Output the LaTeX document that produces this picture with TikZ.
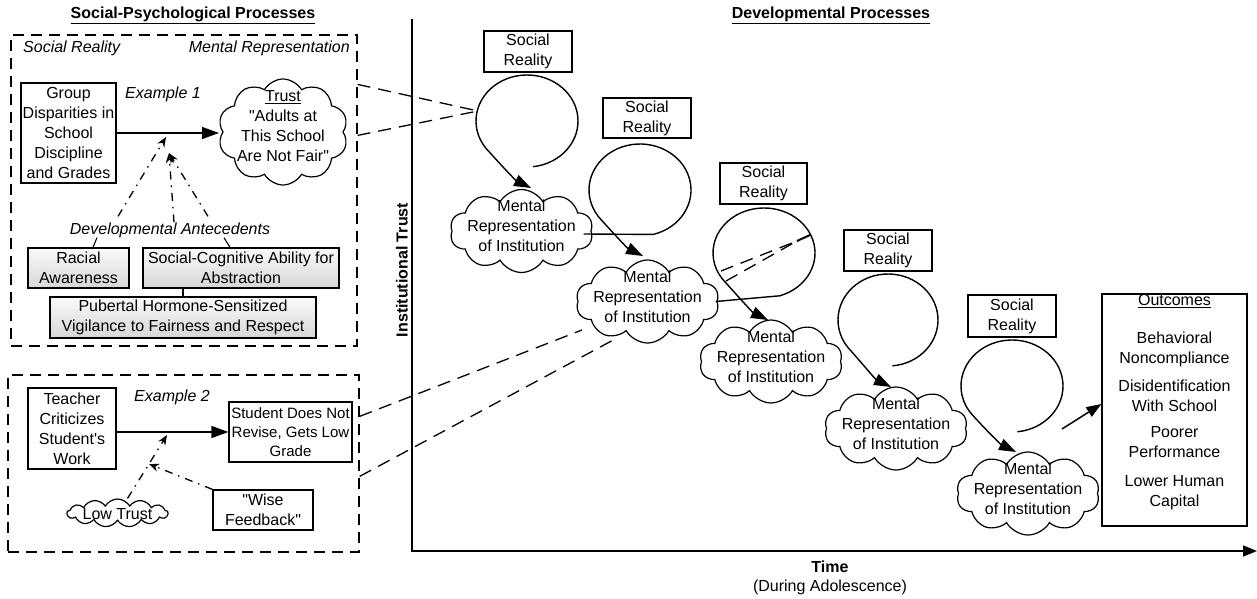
\documentclass[tikz,border=0pt]{standalone}
\usepackage{fontspec}
\newfontfamily\arial{Liberation Sans}
\usetikzlibrary{arrows.meta,shapes.symbols,calc}
\begin{document}
\begin{tikzpicture}[x=1pt,y=-1pt,
 every node/.style={font=\arial\fontsize{16}{20}\selectfont, align=center, inner sep=0pt},
 ital/.style={font=\arial\fontsize{16}{20}\selectfont\itshape},
 bold/.style={font=\arial\fontsize{16}{20}\selectfont\bfseries},
 box/.style={draw, line width=1.2pt},
 gbox/.style={box, top color=gray!4, bottom color=gray!32},
 dbox/.style={draw, line width=1.2pt, dash pattern=on 11pt off 7pt},
 cl/.style={cloud, draw, line width=1.2pt, cloud puffs=10, cloud puff arc=120, aspect=1.7},
 arr/.style={line width=1.4pt, -{Triangle[length=17pt,width=12pt]}},
 sp/.style={line width=1.4pt, -{Triangle[length=17pt,width=12pt]}},
 ddash/.style={line width=1.3pt, dash pattern=on 13pt off 8pt},
 ddot/.style={line width=1.3pt, dash pattern=on 8pt off 6pt on 1.5pt off 6pt, -{Stealth[length=10pt,width=8pt]}},
 tick/.style={line width=1.1pt}
]
\useasboundingbox (0,0) rectangle (1257,599);

% titles
\node[bold] (title1) at (193,15) {\underline{Social-Psychological Processes}};
\node[bold] (title2) at (831,15) {\underline{Developmental Processes}};

% ---------- Example 1 panel ----------
\node[dbox, minimum width=346pt, minimum height=311pt] (ex1box) at (184,190.5) {};
\node[ital, anchor=west] (srl) at (23,48) {Social Reality};
\node[ital, anchor=east] (mrl) at (350,48) {Mental Representation};
\node[box, minimum width=95pt, minimum height=100pt] (gd) at (68.5,133) {Group\\Disparities in\\School\\Discipline\\and Grades};
\node[ital] (ex1) at (163,94) {Example 1};
\node[cl, minimum width=130pt, minimum height=106pt] (trust) at (283,132) {};
\node (trustt) at (283,126) {\underline{Trust}\\"Adults at\\This School\\Are Not Fair"};
\draw[arr] (gd.east) -- (219,133);

\node[ital] (da) at (170,230) {Developmental Antecedents};
\node[gbox, minimum width=101pt, minimum height=40pt] (ra) at (78.5,268) {Racial\\Awareness};
\node[gbox, minimum width=196pt, minimum height=40pt] (sc) at (241,268) {Social-Cognitive Ability for\\Abstraction};
\node[gbox, minimum width=266pt, minimum height=41pt] (pu) at (183,317.5) {Pubertal Hormone-Sensitized\\Vigilance to Fairness and Respect};
\draw[tick] (sc.south -| pu.north) -- (pu.north);
\draw[tick] ($(da.south)+(-73,0)$) -- ($(ra.north)+(14.5,0)$);
\draw[tick] ($(da.south)+(54,0)$) -- ($(sc.north)+(-11,0)$);

\coordinate (mod1a) at (166,137);
\coordinate (mod1b) at (169,153);
\draw[ddot] ($(da.north)+(-52,-6)$) -- (mod1a);
\draw[ddot] ($(da.north)+(4,0)$) -- (mod1b);
\draw[ddot] ($(da.north)+(38,-6)$) -- (mod1b);

% ---------- Example 2 panel ----------
\node[dbox, minimum width=351pt, minimum height=177pt] (ex2box) at (183.5,463.5) {};
\node[box, minimum width=88pt, minimum height=81pt] (tc) at (72,428.5) {Teacher\\Criticizes\\Student's\\Work};
\node[ital] (ex2) at (172,397) {Example 2};
\node[box, minimum width=123pt, minimum height=60pt, font=\arial\fontsize{15}{19}\selectfont] (sd) at (290.5,432) {Student Does Not\\Revise, Gets Low\\Grade};
\draw[arr] (tc.east |- sd.west) -- (sd.west);
\node[cloud, draw, line width=1.2pt, cloud puffs=13, cloud puff arc=120, aspect=4, minimum width=101pt, minimum height=28pt] (lt) at (117.5,513) {};
\node (ltt) at (117.5,514) {Low Trust};
\node[box, minimum width=100pt, minimum height=40pt] (wf) at (263,510) {"Wise\\Feedback"};
\coordinate (mod2) at (167,435);
\draw[ddot] ($(lt.north)+(10,0)$) -- (mod2);
\draw[ddot] (wf.north west) -- (149,464);

% ---------- axes ----------
\coordinate (ytop) at (412,19);
\coordinate (orig) at (412,551);
\coordinate (xend) at (1257,551);
\draw[line width=1.5pt, -{Triangle[length=14pt,width=11pt]}] (ytop) -- (orig) -- (xend);
\node[bold, rotate=90] (yl) at (402,270) {Institutional Trust};
\node[bold] (xl) at (830,567) {Time};
\node (xl2) at (830,587) {(During Adolescence)};

% ---------- developmental spiral ----------
\node[box, minimum width=88pt, minimum height=41pt] (s1) at (528,51.5) {Social\\Reality};
\node[box, minimum width=88pt, minimum height=40pt] (s2) at (647,118) {Social\\Reality};
\node[box, minimum width=87pt, minimum height=41pt] (s3) at (763.5,183.5) {Social\\Reality};
\node[box, minimum width=88pt, minimum height=41pt] (s4) at (888,250.5) {Social\\Reality};
\node[box, minimum width=88pt, minimum height=42pt] (s5) at (1012,316) {Social\\Reality};

\node[cl, minimum width=143pt, minimum height=83pt] (m1) at (521.5,231) {};
\node (m1t) at (521.5,226) {Mental\\Representation\\of Institution};
\node[cl, minimum width=143pt, minimum height=83pt] (m2) at (647.5,301.5) {};
\node (m2t) at (647.5,296.5) {Mental\\Representation\\of Institution};
\node[cl, minimum width=143pt, minimum height=83pt] (m3) at (771,361.5) {};
\node (m3t) at (771,356.5) {Mental\\Representation\\of Institution};
\node[cl, minimum width=143pt, minimum height=83pt] (m4) at (896,428.5) {};
\node (m4t) at (896,423.5) {Mental\\Representation\\of Institution};
\node[cl, minimum width=143pt, minimum height=83pt] (m5) at (1028,493.5) {};
\node (m5t) at (1028,488.5) {Mental\\Representation\\of Institution};

\coordinate (c1) at (527,121);
\coordinate (c2) at (640,190);
\coordinate (c3) at (764,253);
\coordinate (c4) at (888,320);
\coordinate (c5) at (1012,386);
\coordinate (t1) at (531,188);
\coordinate (t2) at (643,256);
\coordinate (t3) at (768,320);
\coordinate (t4) at (891,387);
\coordinate (t5) at (1016,452);

\draw[sp] ($(c1)+(83:51 and 46)$) arc[start angle=83, end angle=-222, x radius=51, y radius=46]
  .. controls +(9,10) and +(-16,-8) .. (t1);
\draw[sp] ($(m1.east)+(-8,3)$) -- ($(c2)+(75:51 and 46)$) arc[start angle=75, end angle=-222, x radius=51, y radius=46]
  .. controls +(9,10) and +(-16,-8) .. (t2);
\draw[sp] ($(m2.east)+(-2,0)$) -- ($(c3)+(72:51 and 45)$) arc[start angle=72, end angle=-222, x radius=51, y radius=45]
  .. controls +(9,10) and +(-16,-8) .. (t3);
\draw[sp] ($(c4)+(85:50 and 46)$) arc[start angle=85, end angle=-222, x radius=50, y radius=46]
  .. controls +(9,10) and +(-16,-8) .. (t4);
\draw[sp] ($(c5)+(84:51 and 46)$) arc[start angle=84, end angle=-222, x radius=51, y radius=46]
  .. controls +(9,10) and +(-16,-8) .. (t5);

% dashed links from the examples
\coordinate (in1) at (478,111);
\draw[ddash] ($(ex1box.north east)+(0,50)$) -- (in1);
\draw[ddash] ($(ex1box.north east)+(0,101)$) -- (in1);
\draw[ddash] ($(ex2box.north east)+(0,42)$) -- (582,330);
\draw[ddash] ($(ex2box.north east)+(0,102)$) -- (617,338);
\coordinate (in3) at (797,241);
\draw[ddash] (721,271) -- (in3);
\draw[ddash] (726,281) -- (in3);
\draw[line width=2pt] (in3) -- (810,235);

% outcomes
\node[box, minimum width=145pt, minimum height=232pt] (out) at (1174.5,410) {};
\node (outt) at (1174.5,402.5) {\underline{Outcomes}\\[18pt]Behavioral\\Noncompliance\\[8pt]Disidentification\\With School\\[6pt]Poorer\\Performance\\[9pt]Lower Human\\Capital};
\draw[line width=1.5pt, -{Triangle[length=15pt,width=11pt]}] (1062,429) -- ($(out.west)+(0,-6)$);
\end{tikzpicture}
\end{document}
